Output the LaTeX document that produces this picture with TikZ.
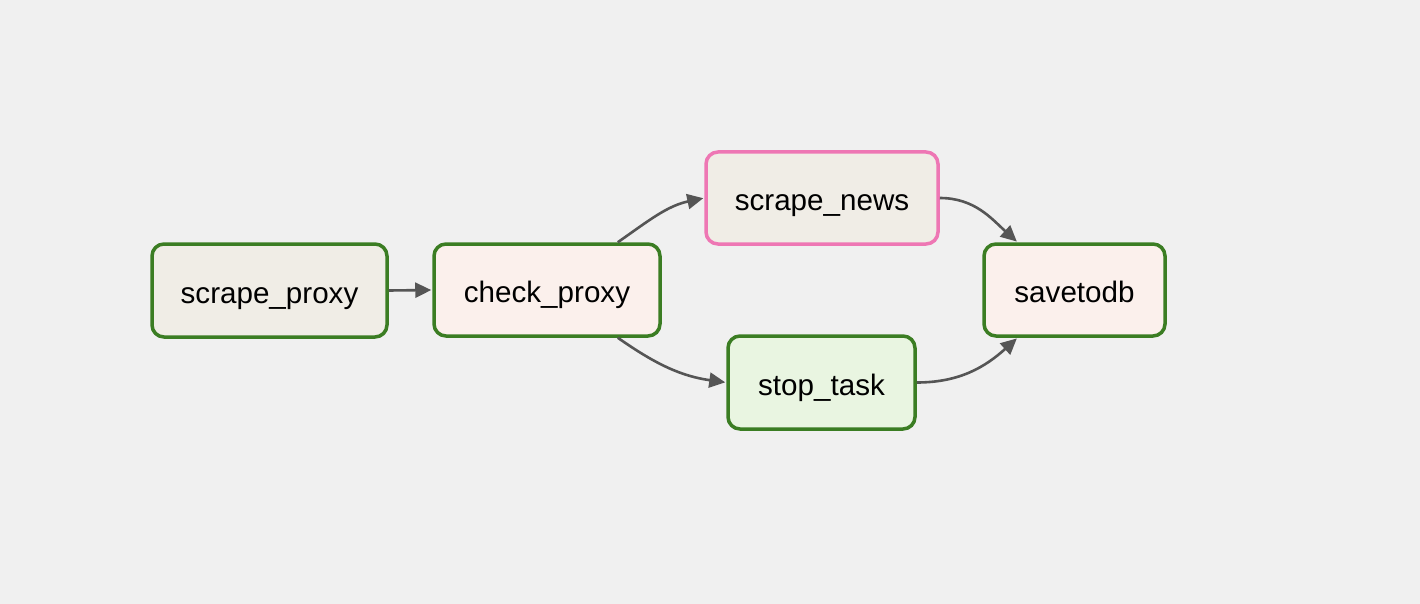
\documentclass[tikz,border=0pt]{standalone}
\usepackage{fontspec}
\setmainfont{Liberation Sans}
\usetikzlibrary{arrows.meta}
\definecolor{bgc}{HTML}{F0F0F0}
\definecolor{okgreen}{HTML}{3B7D23}
\definecolor{pinkb}{HTML}{EE77B4}
\definecolor{fillgray}{HTML}{F0EDE6}
\definecolor{fillpink}{HTML}{FBF0EC}
\definecolor{fillgreen}{HTML}{E9F5E1}
\definecolor{edgec}{HTML}{555555}
\tikzset{
  task/.style={draw=okgreen, line width=3.5pt, rounded corners=12pt, inner sep=0pt,
    font=\fontsize{29.6}{34}\selectfont, text=black, text height=25pt, text depth=0pt},
  edge/.style={draw=edgec, line width=2.6pt, -{Triangle[length=16pt,width=15pt]}, shorten >=1pt}
}
\begin{document}
\begin{tikzpicture}[x=1pt,y=-1pt]
\fill[bgc] (0,0) rectangle (1420,604);
\useasboundingbox (0,0) rectangle (1420,604);
\node[task, fill=fillgray, minimum width=235pt, minimum height=93pt] (sp) at (269.5,290.5) {scrape\_proxy};
\node[task, fill=fillpink, minimum width=226pt, minimum height=92pt] (cp) at (547,290) {check\_proxy};
\node[task, draw=pinkb, fill=fillgray, minimum width=232pt, minimum height=92pt] (sn) at (822,198) {scrape\_news};
\node[task, fill=fillgreen, minimum width=187pt, minimum height=93pt] (st) at (821.5,382.5) {stop\_task};
\node[task, fill=fillpink, minimum width=181pt, minimum height=92pt] (sv) at (1074.5,290) {savetodb};
\draw[edge] (sp.east) -- (cp.west);
\draw[edge] (cp.34) to[out=35,in=192] (sn.west);
\draw[edge] (cp.-34) to[out=-35,in=172] (st.west);
\draw[edge] (sn.east) to[out=0,in=138] (sv.140);
\draw[edge] (st.east) to[out=0,in=222] (sv.-140);
\end{tikzpicture}
\end{document}
